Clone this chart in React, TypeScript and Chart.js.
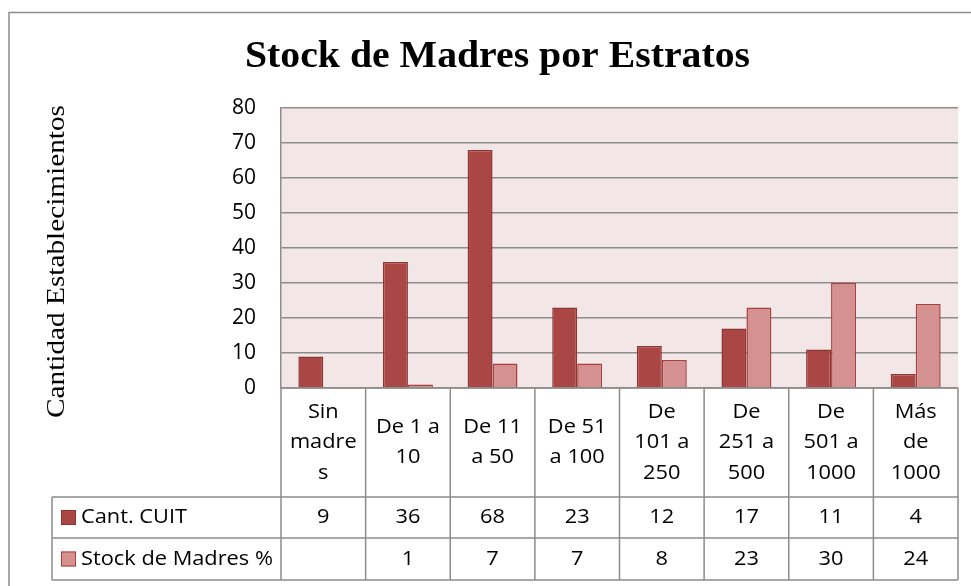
import React, { useEffect, useRef } from "react";
import { Chart, registerables } from "chart.js";

Chart.register(...registerables);

const titleText = "Stock de Madres por Estratos";
const yAxisTitle = "Cantidad Establecimientos";
const categories: string[][] = [
  ["Sin", "madre", "s"],
  ["De 1 a", "10"],
  ["De 11", "a 50"],
  ["De 51", "a 100"],
  ["De", "101 a", "250"],
  ["De", "251 a", "500"],
  ["De", "501 a", "1000"],
  ["Más", "de", "1000"],
];
const cantCuit: (number | null)[] = [9, 36, 68, 23, 12, 17, 11, 4];
const stockMadres: (number | null)[] = [null, 1, 7, 7, 8, 23, 30, 24];
const seriesNames = ["Cant. CUIT", "Stock de Madres %"];
const yTicks = { min: 0, max: 80, step: 10 };

const DARK = "#AA4644";
const DARK_BORDER = "#8C3634";
const LIGHT = "#D49190";
const LIGHT_BORDER = "#A8403E";
const GRID = "#8C8C8C";
const SANS = "'Open Sans', Lato, sans-serif";
const SERIF = "'Liberation Serif', 'DejaVu Serif', serif";
const TABLE_STRETCH = 1.09;

function fitText(ctx: CanvasRenderingContext2D, text: string, cx: number, cy: number, target: number) {
  const w = ctx.measureText(text).width;
  const s = target / w;
  ctx.save();
  ctx.translate(cx, cy);
  ctx.scale(s, 1);
  ctx.fillText(text, 0, 0);
  ctx.restore();
}

function stretchText(ctx: CanvasRenderingContext2D, text: string, x: number, y: number) {
  ctx.save();
  ctx.translate(x, y);
  ctx.scale(TABLE_STRETCH, 1);
  ctx.fillText(text, 0, 0);
  ctx.restore();
}

const decorPlugin = {
  id: "decor",
  beforeDraw(chart: any) {
    const { ctx, chartArea } = chart;
    ctx.save();
    ctx.fillStyle = "#F2E6E6";
    ctx.fillRect(chartArea.left, chartArea.top, chartArea.right - chartArea.left, chartArea.bottom - chartArea.top);
    ctx.restore();
  },
  afterDraw(chart: any) {
    const { ctx, chartArea, width, height } = chart;
    const xs = chart.scales.x;
    ctx.save();
    ctx.strokeStyle = "#8C8C8C";
    ctx.lineWidth = 1.5;
    ctx.beginPath();
    ctx.moveTo(9, height);
    ctx.lineTo(9, 12.5);
    ctx.lineTo(width, 12.5);
    ctx.stroke();

    ctx.fillStyle = "#000";
    ctx.font = `bold 38px ${SERIF}`;
    ctx.textAlign = "center";
    ctx.textBaseline = "alphabetic";
    fitText(ctx, titleText, 497.5, 67, 505);

    ctx.save();
    ctx.translate(64, 261.5);
    ctx.rotate(-Math.PI / 2);
    ctx.font = `26px ${SERIF}`;
    ctx.textAlign = "center";
    ctx.textBaseline = "alphabetic";
    fitText(ctx, yAxisTitle, 0, 0, 313);
    ctx.restore();

    const left = chartArea.left;
    const right = chartArea.right;
    const n = categories.length;
    const cw = (right - left) / n;
    const top = chartArea.bottom;
    const hdrBottom = 497;
    const r1Bottom = 538;
    const r2Bottom = 580;
    const legLeft = 52;

    ctx.strokeStyle = GRID;
    ctx.lineWidth = 1.5;
    ctx.beginPath();
    ctx.moveTo(left, top); ctx.lineTo(right, top);
    ctx.moveTo(legLeft, hdrBottom); ctx.lineTo(right, hdrBottom);
    ctx.moveTo(legLeft, r1Bottom); ctx.lineTo(right, r1Bottom);
    ctx.moveTo(legLeft, r2Bottom); ctx.lineTo(right, r2Bottom);
    for (let i = 0; i <= n; i++) {
      const x = left + i * cw;
      ctx.moveTo(x, top); ctx.lineTo(x, r2Bottom);
    }
    ctx.moveTo(legLeft, hdrBottom); ctx.lineTo(legLeft, r2Bottom);
    ctx.stroke();

    ctx.fillStyle = "#000";
    ctx.font = `20px ${SANS}`;
    ctx.textAlign = "center";
    ctx.textBaseline = "middle";
    const lh = 30.5;
    const hdrMid = (top + hdrBottom) / 2;
    categories.forEach((lines, i) => {
      const cx = xs.getPixelForValue(i);
      const start = hdrMid - ((lines.length - 1) * lh) / 2;
      lines.forEach((t, j) => stretchText(ctx, t, cx, start + j * lh));
    });
    const rows = [cantCuit, stockMadres];
    const rowMids = [(hdrBottom + r1Bottom) / 2, (r1Bottom + r2Bottom) / 2];
    rows.forEach((vals, r) => {
      vals.forEach((v, i) => {
        if (v === null) return;
        stretchText(ctx, String(v), xs.getPixelForValue(i), rowMids[r]);
      });
    });
    const keyFill = [DARK, LIGHT];
    const keyBorder = [DARK_BORDER, LIGHT_BORDER];
    seriesNames.forEach((name, r) => {
      const y = rowMids[r];
      ctx.fillStyle = keyFill[r];
      ctx.fillRect(61, y - 7.5, 15, 15);
      ctx.strokeStyle = keyBorder[r];
      ctx.lineWidth = 1;
      ctx.strokeRect(61.5, y - 7, 14, 14);
      ctx.fillStyle = "#000";
      ctx.textAlign = "left";
      stretchText(ctx, name, 81, y);
    });
    ctx.restore();
  },
};

export default function App() {
  const ref = useRef<HTMLCanvasElement>(null);
  useEffect(() => {
    if (!ref.current) return;
    const chart = new Chart(ref.current, {
      type: "bar",
      data: {
        labels: categories.map((c) => c.join(" ")),
        datasets: [
          {
            label: seriesNames[0],
            data: cantCuit,
            backgroundColor: DARK,
            borderColor: DARK_BORDER,
            borderWidth: 1.5,
          },
          {
            label: seriesNames[1],
            data: stockMadres,
            backgroundColor: LIGHT,
            borderColor: LIGHT_BORDER,
            borderWidth: 1.5,
          },
        ],
      },
      options: {
        responsive: false,
        animation: false,
        layout: { padding: { top: 108, bottom: 198, right: 13, left: 0 } },
        datasets: { bar: { categoryPercentage: 0.59, barPercentage: 1 } },
        plugins: {
          legend: { display: false },
          title: { display: false },
          tooltip: { enabled: false },
        },
        scales: {
          x: { display: false },
          y: {
            min: yTicks.min,
            max: yTicks.max,
            ticks: {
              stepSize: yTicks.step,
              color: "#000",
              font: { family: SANS, size: 21 },
              padding: 25,
            },
            grid: { color: GRID, lineWidth: 1.5, drawTicks: false },
            border: { color: GRID, width: 1.5 },
            afterFit: (scale: any) => {
              scale.width = 281;
            },
          },
        },
      },
      plugins: [decorPlugin],
    });
    return () => chart.destroy();
  }, []);
  return (
    <div style={{ position: "absolute", left: 0, top: 0, width: 971, height: 586, background: "#fff" }}>
      <canvas ref={ref} width={971} height={586} />
    </div>
  );
}
